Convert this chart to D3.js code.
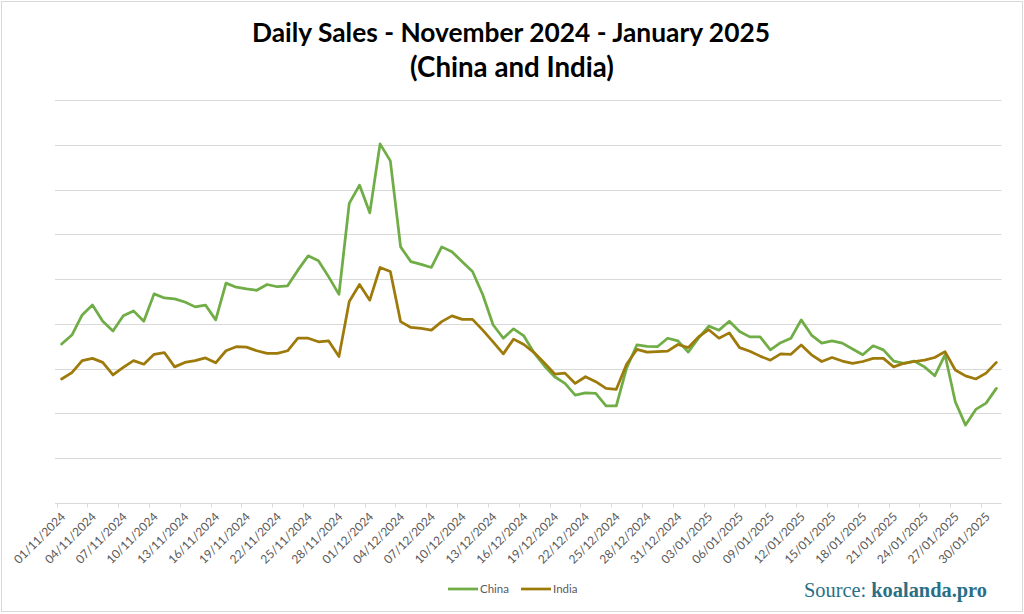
<!DOCTYPE html>
<html><head><meta charset="utf-8">
<script src="https://cdn.jsdelivr.net/npm/d3@7"></script>
<style>html,body{margin:0;padding:0;background:#fff;}svg{display:block;}</style>
</head><body>
<svg id="chart" width="1024" height="614"></svg>
<script>
const dates = [
"01/11/2024","02/11/2024","03/11/2024","04/11/2024","05/11/2024","06/11/2024","07/11/2024","08/11/2024","09/11/2024","10/11/2024",
"11/11/2024","12/11/2024","13/11/2024","14/11/2024","15/11/2024","16/11/2024","17/11/2024","18/11/2024","19/11/2024","20/11/2024",
"21/11/2024","22/11/2024","23/11/2024","24/11/2024","25/11/2024","26/11/2024","27/11/2024","28/11/2024","29/11/2024","30/11/2024",
"01/12/2024","02/12/2024","03/12/2024","04/12/2024","05/12/2024","06/12/2024","07/12/2024","08/12/2024","09/12/2024","10/12/2024",
"11/12/2024","12/12/2024","13/12/2024","14/12/2024","15/12/2024","16/12/2024","17/12/2024","18/12/2024","19/12/2024","20/12/2024",
"21/12/2024","22/12/2024","23/12/2024","24/12/2024","25/12/2024","26/12/2024","27/12/2024","28/12/2024","29/12/2024","30/12/2024",
"31/12/2024","01/01/2025","02/01/2025","03/01/2025","04/01/2025","05/01/2025","06/01/2025","07/01/2025","08/01/2025","09/01/2025",
"10/01/2025","11/01/2025","12/01/2025","13/01/2025","14/01/2025","15/01/2025","16/01/2025","17/01/2025","18/01/2025","19/01/2025",
"20/01/2025","21/01/2025","22/01/2025","23/01/2025","24/01/2025","25/01/2025","26/01/2025","27/01/2025","28/01/2025","29/01/2025",
"30/01/2025","31/01/2025"];

const china = [
355,375,420,442,406,384,418,429,406,467,
458,456,449,438,442,409,491,482,478,475,
488,483,485,520,552,541,505,466,669,710,
648,802,764,572,539,533,526,572,561,539,
517,465,398,368,389,373,335,306,282,267,
241,246,245,217,217,301,353,350,349,368,
362,337,368,395,386,406,383,371,371,342,
358,368,409,375,357,362,357,344,331,351,
342,317,312,317,304,284,331,226,174,209,
223,256];

const india = [
277,291,318,323,314,286,303,318,310,332,
336,304,314,318,324,313,340,349,348,340,
334,334,340,368,368,360,362,327,450,488,
453,526,517,405,392,390,386,405,418,410,
410,386,360,333,366,354,336,313,288,290,
267,282,271,256,254,310,343,337,338,339,
354,347,371,387,368,380,347,339,328,319,
333,332,353,331,316,325,317,312,316,323,
323,304,312,316,319,325,338,297,284,277,
290,314];

const gridValues = [100,200,300,400,500,600,700,800,900];
const seriesNames = ["China","India"];
const seriesColors = ["#70AD47","#9E7A0B"];
const titleLines = ["Daily Sales - November 2024 - January 2025","(China and India)"];

const svg = d3.select("#chart");
const W = 1024, H = 614;

svg.append("rect").attr("x",1.5).attr("y",1.5).attr("width",W-3).attr("height",H-4)
  .attr("fill","#fff").attr("stroke","#D9D9D9").attr("stroke-width",1);

const x = d3.scaleBand().domain(dates).range([56.5, 1001.5]);
const y = d3.scaleLinear().domain([0, 900]).range([503, 100]);
const cx = d => x(d) + x.bandwidth()/2;

// gridlines
svg.append("g").selectAll("line").data(gridValues).join("line")
  .attr("x1",55).attr("x2",1001.5)
  .attr("y1",d=>Math.round(y(d))+0.5).attr("y2",d=>Math.round(y(d))+0.5)
  .attr("stroke","#D9D9D9").attr("stroke-width",1);

// x axis
const tickDates = dates.filter((d,i)=>i%3===0);
const axis = d3.axisBottom(x).tickValues(tickDates).tickSize(0).tickFormat("");
const gx = svg.append("g").attr("transform","translate(0,503.5)").call(axis);
gx.select(".domain").attr("stroke","#D9D9D9").attr("d","M55,0H1001.5");
gx.selectAll("line.tm").data(tickDates).join("line").attr("class","tm")
  .attr("x1",d=>Math.round(x(d))+0.5).attr("x2",d=>Math.round(x(d))+0.5)
  .attr("y1",0).attr("y2",4).attr("stroke","#D9D9D9");
gx.selectAll("text.lab").data(tickDates).join("text").attr("class","lab")
  .attr("transform",d=>`translate(${cx(d)+1.5},${11}) rotate(-45)`)
  .attr("text-anchor","end").attr("dy","0.35em")
  .attr("font-family","Lato, 'Open Sans', sans-serif").attr("font-size",12)
  .attr("fill","#595959").text(d=>d);

// lines
const line = d3.line().x((v,i)=>cx(dates[i])).y(v=>y(v));
[china, india].forEach((s,k)=>{
  svg.append("path").datum(s).attr("d",line).attr("fill","none")
    .attr("stroke",seriesColors[k]).attr("stroke-width",2.75)
    .attr("stroke-linejoin","round").attr("stroke-linecap","round");
});

// title
function fitText(sel, target){
  const w = sel.node().getComputedTextLength();
  const fs = parseFloat(sel.attr("font-size"));
  sel.attr("font-size", fs*target/w);
}
const t1 = svg.append("text").attr("x",511).attr("y",42).attr("text-anchor","middle")
  .attr("font-family","Lato, 'Open Sans', sans-serif").attr("font-weight","bold")
  .attr("font-size",24).attr("fill","#000").text(titleLines[0]);
fitText(t1, 518);
const t2 = svg.append("text").attr("x",512).attr("y",77).attr("text-anchor","middle")
  .attr("font-family","Lato, 'Open Sans', sans-serif").attr("font-weight","bold")
  .attr("font-size",24).attr("fill","#000").text(titleLines[1]);
fitText(t2, 204);

// legend
const legX = [448, 521];
seriesNames.forEach((n,k)=>{
  svg.append("line").attr("x1",legX[k]).attr("x2",legX[k]+30).attr("y1",589).attr("y2",589)
    .attr("stroke",seriesColors[k]).attr("stroke-width",2.75);
  svg.append("text").attr("x",legX[k]+32).attr("y",589).attr("dy","0.35em")
    .attr("font-family","Lato, 'Open Sans', sans-serif").attr("font-size",11.5)
    .attr("fill","#595959").text(n);
});

// source
const src = svg.append("text").attr("x",804).attr("y",597)
  .attr("font-family","'Liberation Serif','DejaVu Serif',serif").attr("font-size",20).attr("fill","#2A6F86");
src.append("tspan").text("Source: ");
src.append("tspan").attr("font-weight","bold").text("koalanda.pro");
const sw = src.node().getComputedTextLength();
src.attr("font-size", 20*183/sw);
</script>
</body></html>
